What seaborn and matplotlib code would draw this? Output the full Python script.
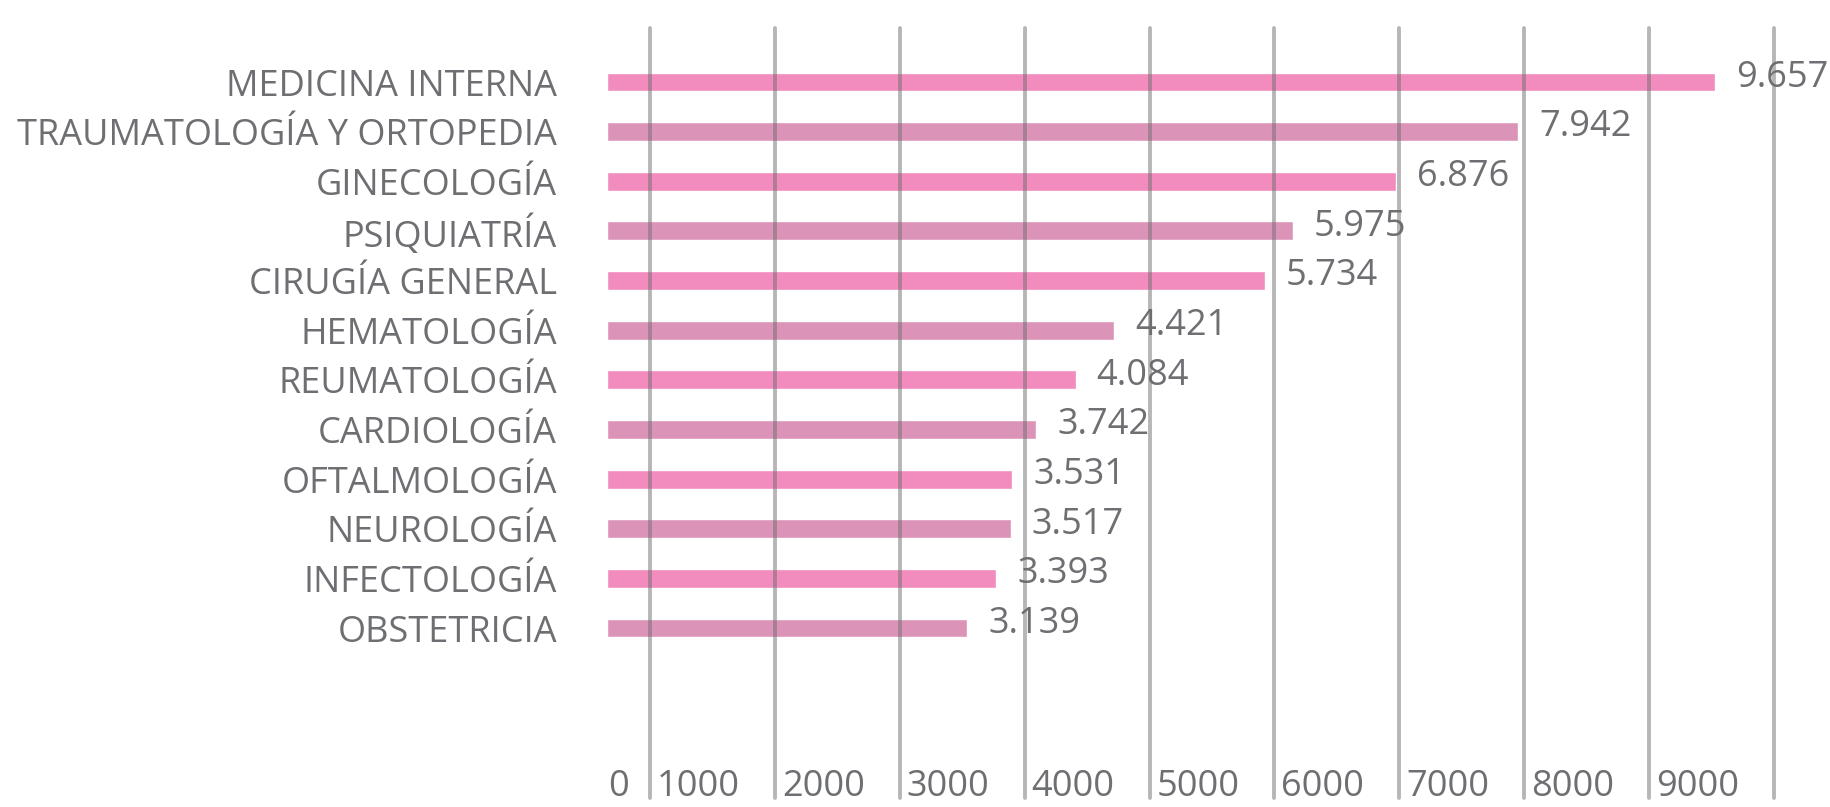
import numpy as np
import pandas as pd
import matplotlib
matplotlib.use("Agg")
import matplotlib.pyplot as plt
import seaborn as sns

# Datos del grafico
especialidades = ["MEDICINA INTERNA", "TRAUMATOLOGÍA Y ORTOPEDIA", "GINECOLOGÍA",
                  "PSIQUIATRÍA", "CIRUGÍA GENERAL", "HEMATOLOGÍA", "REUMATOLOGÍA",
                  "CARDIOLOGÍA", "OFTALMOLOGÍA", "NEUROLOGÍA", "INFECTOLOGÍA",
                  "OBSTETRICIA"]
consultas = [9657, 7942, 6876, 5975, 5734, 4421, 4084, 3742, 3531, 3517, 3393, 3139]
ticks_grilla = [1000, 2000, 3000, 4000, 5000, 6000, 7000, 8000, 9000, 10000]
etiquetas_eje = ["1000", "2000", "3000", "4000", "5000", "6000", "7000", "8000", "9000"]

rosa = "#F28BBE"
malva = "#DB94B8"
gris = "#6D6F72"

sns.set_style("white")
plt.rcParams["font.family"] = ["Open Sans", "DejaVu Sans"]

fig = plt.figure(figsize=(18.31, 8.07), dpi=100)
ax = fig.add_axes([607 / 1831, 0, 1224 / 1831, 1])

df = pd.DataFrame({"especialidad": especialidades, "consultas": consultas})
sns.barplot(data=df, y="especialidad", x="consultas", hue="especialidad",
            palette=[rosa, malva] * 6, legend=False, width=0.38, orient="h",
            saturation=1, ax=ax)
ax.set_xlim(0, 10668)
ax.set_ylim(14.606, -1.652)

# Etiquetas de valor con punto de miles
for i, v in enumerate(consultas):
    ax.annotate(f"{v:,}".replace(",", "."), xy=(v, i), xytext=(15, 3),
                textcoords="offset points", ha="left", va="center",
                fontsize=26, color=gris)

ax.set_xticks([])
ax.set_xlabel("")
ax.set_ylabel("")
ax.tick_params(axis="y", length=0, pad=36, labelsize=26, labelcolor=gris)
for s in ax.spines.values():
    s.set_visible(False)
ax.annotate("0", xy=(0, 0.003), xycoords=("data", "axes fraction"),
            xytext=(1, 0), textcoords="offset points", ha="left", va="bottom",
            fontsize=26, color=gris)

# Lineas verticales de la grilla (escala propia)
ax2 = ax.twiny()
ax2.set_xlim(656, 10456)
for t in ticks_grilla:
    ax2.axvline(t, ymin=0.011, ymax=0.965, color="#6e6e6e", alpha=0.5, lw=2.8)
for t, lab in zip(ticks_grilla, etiquetas_eje):
    ax2.annotate(lab, xy=(t, 0.003), xycoords=("data", "axes fraction"),
                 xytext=(5, 0), textcoords="offset points", ha="left",
                 va="bottom", fontsize=26, color=gris)
ax2.set_xticks([])
for s in ax2.spines.values():
    s.set_visible(False)

fig.savefig("out.png", dpi=100)
